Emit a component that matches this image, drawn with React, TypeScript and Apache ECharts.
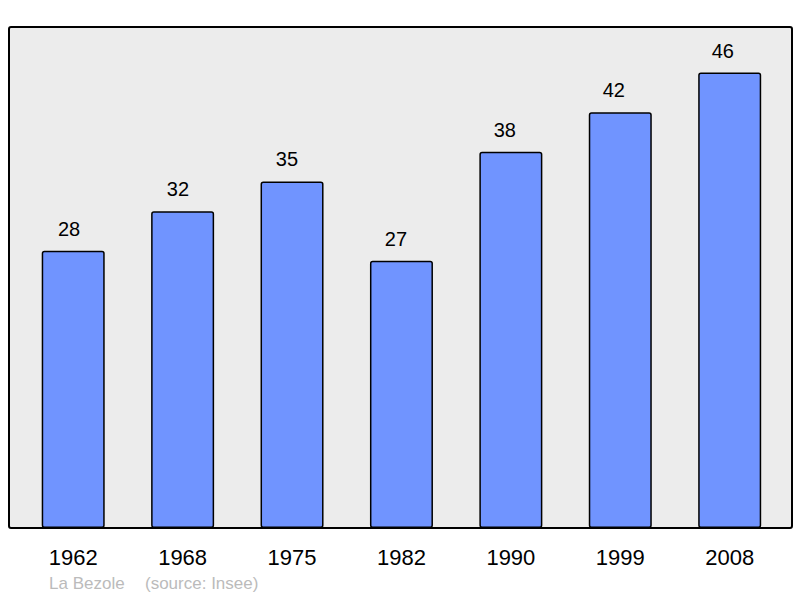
import React, { useEffect, useRef } from "react";
import * as echarts from "echarts";

const years = ["1962", "1968", "1975", "1982", "1990", "1999", "2008"];
const population = [28, 32, 35, 27, 38, 42, 46];
const placeName = "La Bezole";
const sourceText = "(source: Insee)";

export default function App() {
  const ref = useRef<HTMLDivElement>(null);
  useEffect(() => {
    if (!ref.current) return;
    const chart = echarts.init(ref.current, null, { renderer: "svg" });
    const font = "'Liberation Sans', Arial, sans-serif";
    chart.setOption({
      animation: false,
      backgroundColor: "#ffffff",
      graphic: [
        {
          type: "rect",
          shape: { x: 9, y: 27, width: 783, height: 501, r: 2 },
          style: { fill: "#ececec", stroke: "#000", lineWidth: 2 },
          z: -10,
        },
        {
          type: "text",
          left: 49,
          top: 575,
          style: { text: placeName, fill: "#bbbbbb", font: `17px ${font}` },
        },
        {
          type: "text",
          left: 145,
          top: 575,
          style: { text: sourceText, fill: "#bbbbbb", font: `17px ${font}` },
        },
      ],
      grid: { left: 18.5, right: 15.6, top: 27, bottom: 70, containLabel: false },
      xAxis: {
        type: "category",
        data: years,
        axisLine: { show: false },
        axisTick: { show: false },
        axisLabel: {
          color: "#000",
          fontSize: 22,
          fontFamily: font,
          margin: 18,
        },
      },
      yAxis: {
        type: "value",
        min: 0,
        max: 50.6,
        show: false,
        splitLine: { show: false },
      },
      series: [
        {
          type: "bar",
          data: population.map((v, i) => ({
            value: v,
            label: { offset: [-4.2 - 0.45 * i, 0] },
          })),
          barWidth: 63,
          itemStyle: { color: "#7094ff", borderColor: "#000", borderWidth: 1.5, borderRadius: 2 },
          label: {
            show: true,
            position: "top",
            distance: 12,
            color: "#000",
            fontSize: 20,
            fontFamily: font,
          },
        },
      ],
    });
    return () => chart.dispose();
  }, []);
  return <div ref={ref} style={{ width: 800, height: 598, position: "absolute", left: 0, top: 0 }} />;
}
